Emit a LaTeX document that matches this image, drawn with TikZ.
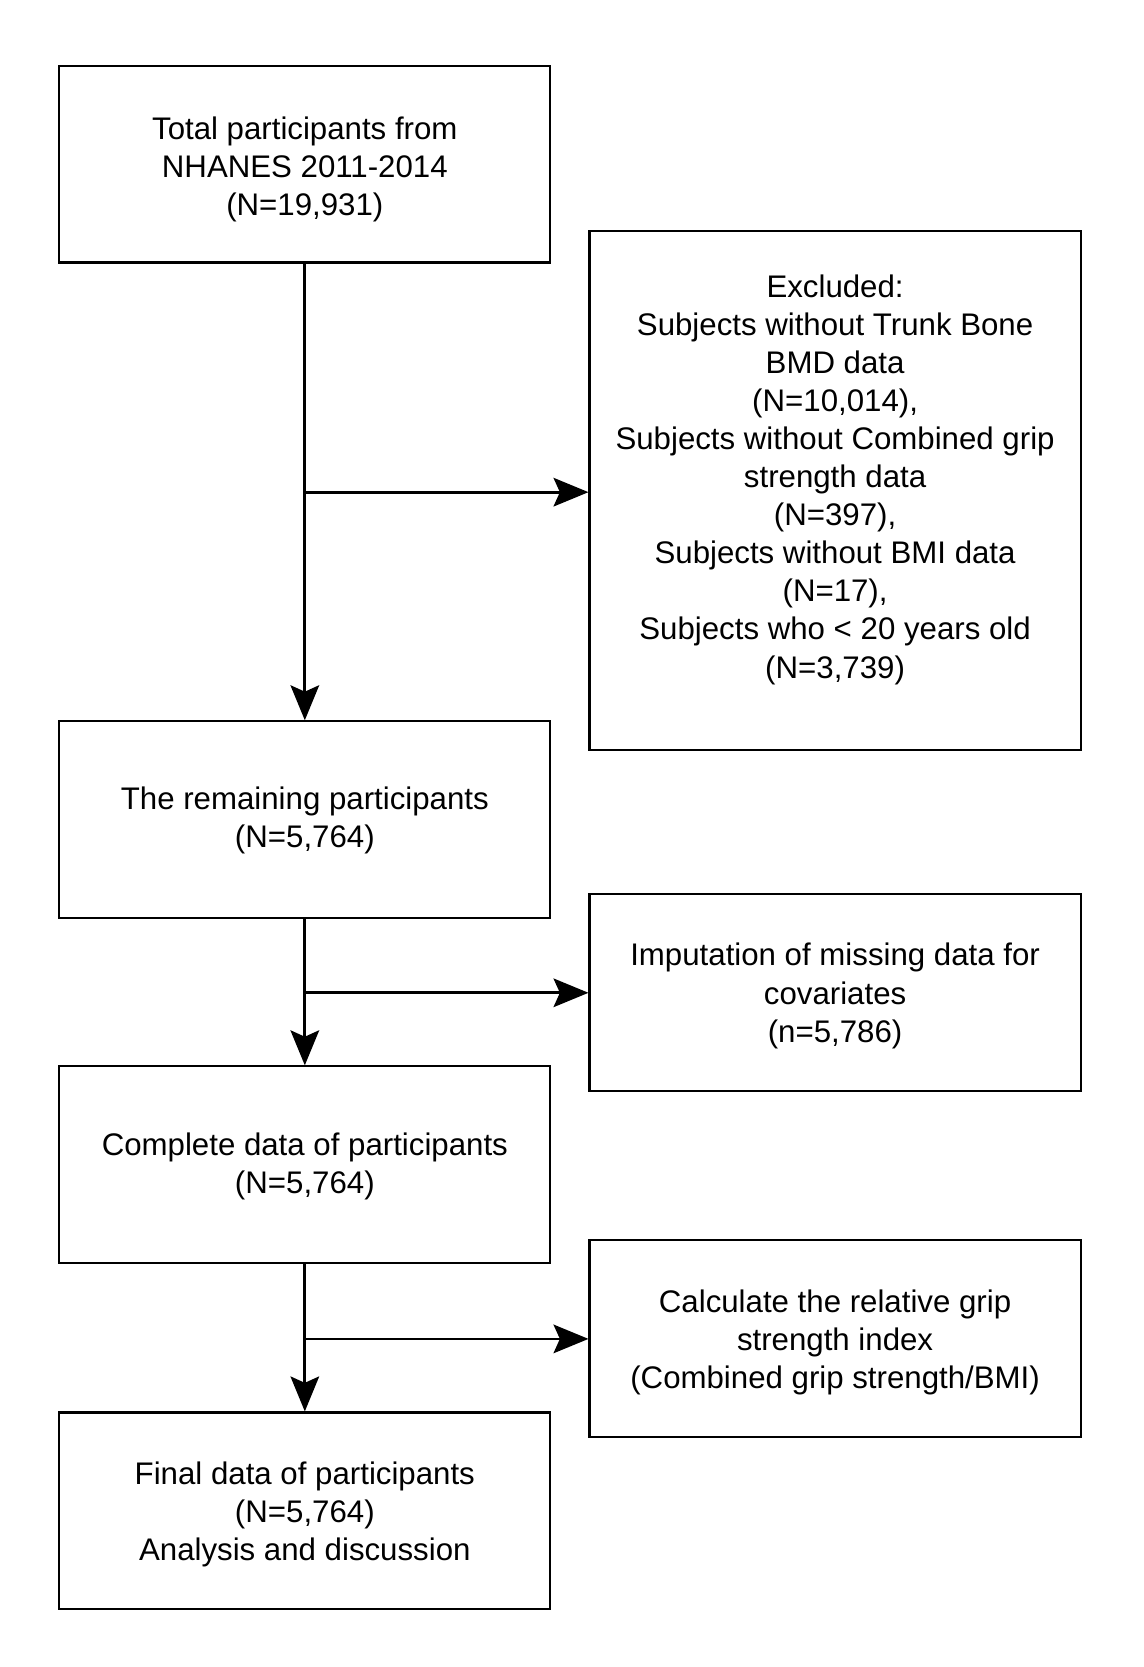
\documentclass[tikz,border=0pt]{standalone}
\usepackage{fontspec}
\setmainfont{Liberation Sans}
\usetikzlibrary{arrows.meta}
\begin{document}
\begin{tikzpicture}[x=0.5pt,y=-0.5pt,
  box/.style={draw=black,line width=1pt,minimum width=232pt,minimum height=93pt,inner sep=0pt},
  txt/.style={align=center,inner sep=0pt,font=\fontsize{14.75}{18}\selectfont},
  arr/.style={line width=1.3pt,-{Stealth[length=16.5pt,width=13.5pt,inset=3pt]}},
  ln/.style={line width=1.3pt}]
\useasboundingbox (0,0) rectangle (1080,1575);
\node[box] (total) at (288,155) {};
\node[txt] (ttotal) at (288,160) {Total participants from\\NHANES 2011-2014\\(N=19,931)};
\node[box,minimum height=245.5pt] (excl) at (789,463.5) {};
\node[txt] (texcl) at (789,453) {Excluded:\\ Subjects without Trunk Bone\\BMD data\\(N=10,014),\\Subjects without Combined grip\\strength data\\(N=397),\\Subjects without BMI data\\(N=17),\\Subjects who < 20 years old\\(N=3,739)};
\node[box] (remain) at (288,774.5) {};
\node[txt] (tremain) at (288,775) {The remaining participants\\(N=5,764)};
\node[box] (imput) at (789,938) {};
\node[txt] (timput) at (789,941) {Imputation of missing data for\\covariates\\(n=5,786)};
\node[box] (compl) at (288,1100.5) {};
\node[txt] (tcompl) at (288,1102) {Complete data of participants\\(N=5,764)};
\node[box] (calc) at (789,1264.5) {};
\node[txt] (tcalc) at (789,1268) {Calculate the relative grip\\strength index\\(Combined grip strength/BMI)};
\node[box] (final) at (288,1427.5) {};
\node[txt] (tfinal) at (288,1431) {Final data of participants\\(N=5,764)\\Analysis and discussion};
\coordinate (b1) at (288,465);
\coordinate (b2) at (288,938);
\coordinate (b3) at (288,1265);
\draw[arr] (total.south) -- (remain.north);
\draw[arr] (b1) -- (b1 -| excl.west);
\draw[arr] (remain.south) -- (compl.north);
\draw[arr] (b2) -- (b2 -| imput.west);
\draw[arr] (compl.south) -- (final.north);
\draw[arr] (b3) -- (b3 -| calc.west);
\end{tikzpicture}
\end{document}
